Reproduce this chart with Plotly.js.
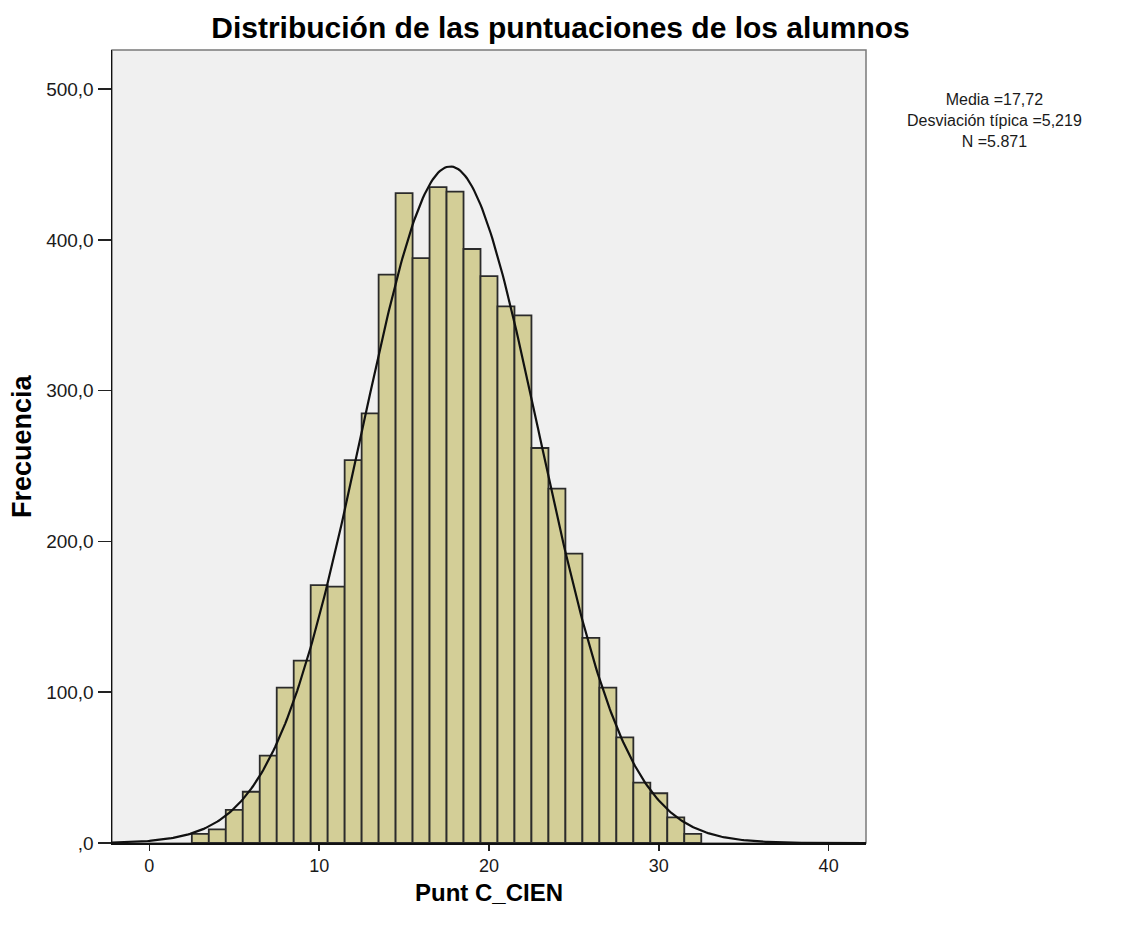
<!DOCTYPE html>
<html>
<head>
<meta charset="utf-8">
<script src="https://cdn.plot.ly/plotly-3.0.1.min.js"></script>
<style>html,body{margin:0;padding:0;background:#fff;}#chart{width:1121px;height:930px;}</style>
</head>
<body>
<div id="chart"></div>
<script>
// Histogram bins (centers) and frequencies
const binCenters = [3,4,5,6,7,8,9,10,11,12,13,14,15,16,17,18,19,20,21,22,23,24,25,26,27,28,29,30,31,32];
const frequencies = [6,9,22,34,58,103,121,171,170,254,285,377,431,388,435,432,394,376,356,350,262,235,192,136,103,70,40,33,17,6];

// Summary statistics shown in the chart
const mediaValue = 17.72;
const sdValue = 5.219;
const nValue = 5871;
const statLabels = ["Media =17,72", "Desviación típica =5,219", "N =5.871"];

// Axis ticks
const yTickVals = [0,100,200,300,400,500];
const yTickText = [",0","100,0","200,0","300,0","400,0","500,0"];
const xTickVals = [0,10,20,30,40];
const xTickText = ["0","10","20","30","40"];

// Fitted normal curve from the stated mean, sd and N (bin width 1)
const curveX = [], curveY = [];
for (let i = 0; i <= 444; i++) {
  const x = -2.2 + i * 0.1;
  curveX.push(x);
  curveY.push(nValue / (sdValue * Math.sqrt(2 * Math.PI)) * Math.exp(-0.5 * Math.pow((x - mediaValue) / sdValue, 2)));
}

const font = "Liberation Sans, Arial, sans-serif";

const traces = [
  {
    type: "bar",
    x: binCenters,
    y: frequencies,
    width: 1,
    marker: {color: "#d3ce97", line: {color: "#2b2b2b", width: 1.8}},
    hoverinfo: "x+y"
  },
  {
    type: "scatter",
    mode: "lines",
    x: curveX,
    y: curveY,
    line: {color: "#111111", width: 2.2},
    hoverinfo: "skip"
  }
];

const annotations = [
  {
    xref: "paper", yref: "paper",
    x: 1.17, y: 1 - (89 - 50) / 793,
    xanchor: "center", yanchor: "top",
    text: statLabels.join("<br>"), showarrow: false, align: "center",
    font: {family: font, size: 16, color: "#1a1a1a"}
  },
  {
    xref: "paper", yref: "paper",
    x: 0.5, y: (843 - 892) / 793,
    xanchor: "center", yanchor: "middle",
    text: "Punt C_CIEN", showarrow: false,
    font: {family: font, size: 24, color: "#000", weight: "bold"}
  },
  {
    xref: "paper", yref: "paper",
    x: (22 - 112) / 754, y: 1 - (446 - 50) / 793,
    xanchor: "center", yanchor: "middle",
    text: "Frecuencia", showarrow: false, textangle: -90,
    font: {family: font, size: 27, color: "#000", weight: "bold"}
  }
];

const layout = {
  width: 1121,
  height: 930,
  margin: {l: 112, r: 255, t: 50, b: 87},
  paper_bgcolor: "#ffffff",
  plot_bgcolor: "#f0f0f0",
  showlegend: false,
  bargap: 0,
  font: {family: font, color: "#1a1a1a"},
  title: {
    text: "Distribución de las puntuaciones de los alumnos",
    font: {family: font, size: 30, color: "#000", weight: "bold"},
    x: 0.5, xref: "container", xanchor: "center",
    y: 0.97, yref: "container", yanchor: "middle"
  },
  xaxis: {
    range: [-2.2, 42.2],
    tickvals: xTickVals,
    ticktext: xTickText,
    ticks: "outside",
    ticklen: 6,
    tickwidth: 1.5,
    tickcolor: "#222",
    tickfont: {family: font, size: 18, color: "#1a1a1a"},
    showgrid: false,
    zeroline: false,
    showline: true,
    linecolor: "#111",
    linewidth: 1.5
  },
  yaxis: {
    range: [0, 526],
    tickvals: yTickVals,
    ticktext: yTickText,
    ticks: "outside",
    ticklen: 13,
    tickwidth: 1.5,
    tickcolor: "#222",
    tickfont: {family: font, size: 19, color: "#1a1a1a"},
    showgrid: false,
    zeroline: false,
    showline: true,
    linecolor: "#111",
    linewidth: 1.5
  },
  shapes: [
    {type: "rect", xref: "paper", yref: "paper", x0: 0, x1: 1, y0: 0, y1: 1,
     line: {color: "#7a7a7a", width: 1.5}, fillcolor: "rgba(0,0,0,0)", layer: "below"}
  ],
  annotations: annotations
};

Plotly.newPlot("chart", traces, layout, {displayModeBar: false, staticPlot: true});
</script>
</body>
</html>
